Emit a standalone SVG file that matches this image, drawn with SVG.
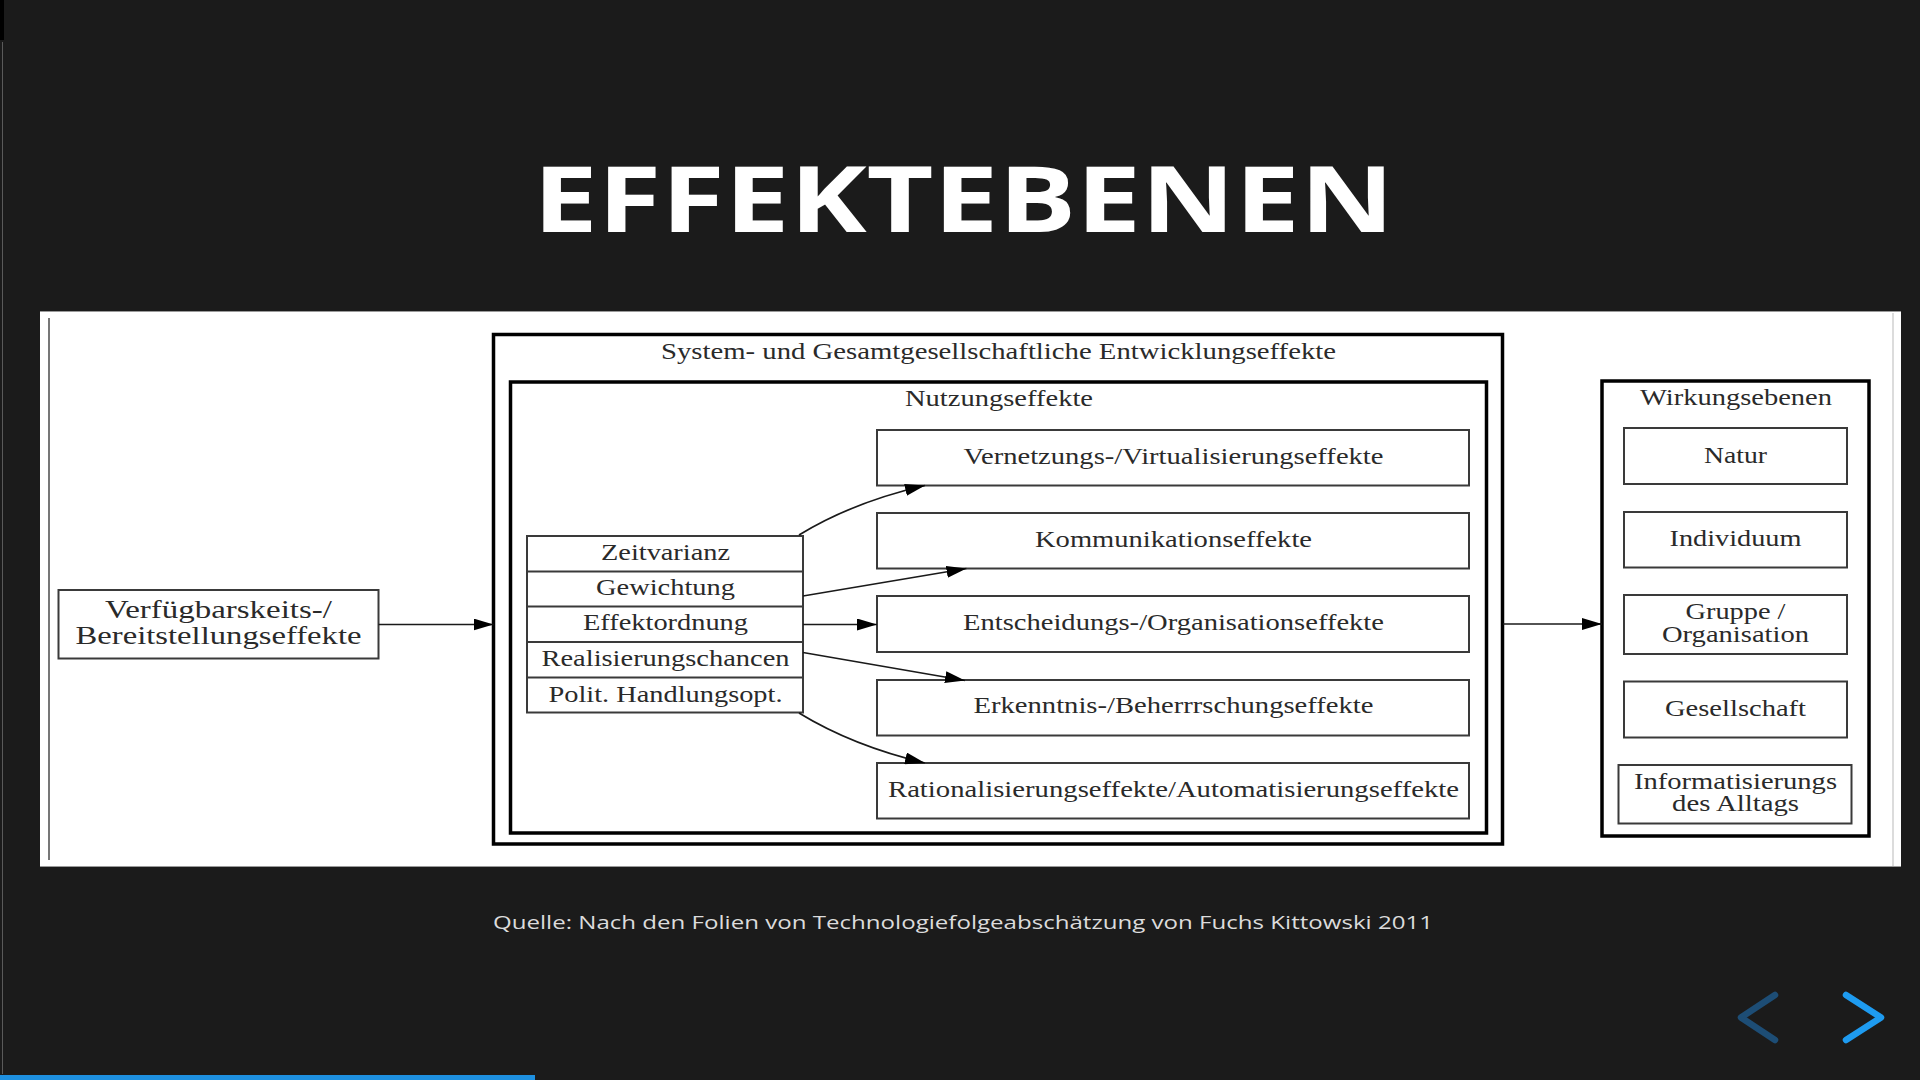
<svg xmlns="http://www.w3.org/2000/svg" width="1920" height="1080" viewBox="0 0 1920 1080">
<style>
.bg{fill:#1b1b1b}
.title{font-family:"Open Sans","Noto Sans",sans-serif;font-weight:700;font-size:92px;fill:#ffffff}
.cap{font-family:"Open Sans","Noto Sans",sans-serif;font-size:19px;fill:#dcdcdc}
.t{font-family:"Liberation Serif","Times New Roman",serif;font-size:24px;fill:#2a2a2a;text-anchor:middle}
.tl{font-family:"Liberation Serif","Times New Roman",serif;font-size:26px;fill:#2a2a2a;text-anchor:middle}
.box{fill:#ffffff;stroke:#3a3a3a;stroke-width:2}
.frame{fill:none;stroke:#000000;stroke-width:3.5}
.edge{fill:none;stroke:#1a1a1a;stroke-width:1.7}
.chev{fill:none;stroke-width:6.5;stroke-linecap:round;stroke-linejoin:round}
</style>
<defs>
<marker id="ah" markerUnits="userSpaceOnUse" markerWidth="20" markerHeight="12" refX="20" refY="6" orient="auto">
<polygon points="0,0 20,6 0,12" fill="#000000"/>
</marker>
</defs>
<rect class="bg" x="0" y="0" width="1920" height="1080"/>
<rect x="0" y="0" width="4" height="40" fill="#000000"/>
<line x1="2.5" y1="42" x2="2.5" y2="1074" stroke="#5a5a5a" stroke-width="1"/>
<text class="title" x="533" y="232" textLength="861" lengthAdjust="spacingAndGlyphs">EFFEKTEBENEN</text>

<rect x="40" y="311" width="1861" height="556" fill="#ffffff"/>
<line x1="40" y1="311.5" x2="1901" y2="311.5" stroke="#9a9a9a" stroke-width="1"/>
<line x1="40" y1="866.5" x2="1901" y2="866.5" stroke="#9a9a9a" stroke-width="1"/>
<line x1="1893" y1="313" x2="1893" y2="866" stroke="#d0d0d0" stroke-width="1.5"/>
<line x1="49" y1="318" x2="49" y2="860" stroke="#777777" stroke-width="2"/>

<g id="verfuegbarkeit">
<rect class="box" x="58.5" y="590" width="320" height="68.5"/>
<text class="tl" x="218.5" y="617.5" textLength="227" lengthAdjust="spacingAndGlyphs">Verfügbarskeits-/</text>
<text class="tl" x="218.5" y="643.5" textLength="286" lengthAdjust="spacingAndGlyphs">Bereitstellungseffekte</text>
</g>

<g id="system">
<rect class="frame" x="493.5" y="334.5" width="1009" height="509.5"/>
<text class="t" x="998.5" y="358.5" textLength="675" lengthAdjust="spacingAndGlyphs">System- und Gesamtgesellschaftliche Entwicklungseffekte</text>
</g>

<g id="nutzung">
<rect class="frame" x="510.5" y="382" width="976" height="451"/>
<text class="t" x="999" y="406" textLength="188" lengthAdjust="spacingAndGlyphs">Nutzungseffekte</text>
</g>

<g id="faktoren">
<rect class="box" x="527" y="536" width="276" height="176.5"/>
<line x1="527" y1="571.5" x2="803" y2="571.5" stroke="#3a3a3a" stroke-width="2"/>
<line x1="527" y1="606.5" x2="803" y2="606.5" stroke="#3a3a3a" stroke-width="2"/>
<line x1="527" y1="642" x2="803" y2="642" stroke="#3a3a3a" stroke-width="2"/>
<line x1="527" y1="677.5" x2="803" y2="677.5" stroke="#3a3a3a" stroke-width="2"/>
<text class="t" x="665.5" y="559.5" textLength="129" lengthAdjust="spacingAndGlyphs">Zeitvarianz</text>
<text class="t" x="665.5" y="594.5" textLength="139" lengthAdjust="spacingAndGlyphs">Gewichtung</text>
<text class="t" x="665.5" y="630" textLength="165" lengthAdjust="spacingAndGlyphs">Effektordnung</text>
<text class="t" x="665.5" y="665.5" textLength="248" lengthAdjust="spacingAndGlyphs">Realisierungschancen</text>
<text class="t" x="665.5" y="701.5" textLength="234" lengthAdjust="spacingAndGlyphs">Polit. Handlungsopt.</text>
</g>

<g id="vernetzung">
<rect class="box" x="877" y="430" width="592" height="55.5"/>
<text class="t" x="1173.5" y="463.5" textLength="420" lengthAdjust="spacingAndGlyphs">Vernetzungs-/Virtualisierungseffekte</text>
</g>
<g id="kommunikation">
<rect class="box" x="877" y="513" width="592" height="55.5"/>
<text class="t" x="1173.5" y="546.5" textLength="277" lengthAdjust="spacingAndGlyphs">Kommunikationseffekte</text>
</g>
<g id="entscheidung">
<rect class="box" x="877" y="596" width="592" height="56"/>
<text class="t" x="1173.5" y="629.5" textLength="421" lengthAdjust="spacingAndGlyphs">Entscheidungs-/Organisationseffekte</text>
</g>
<g id="erkenntnis">
<rect class="box" x="877" y="680" width="592" height="55.5"/>
<text class="t" x="1173.5" y="713" textLength="400" lengthAdjust="spacingAndGlyphs">Erkenntnis-/Beherrrschungseffekte</text>
</g>
<g id="rationalisierung">
<rect class="box" x="877" y="763" width="592" height="55.5"/>
<text class="t" x="1173.5" y="797" textLength="571" lengthAdjust="spacingAndGlyphs">Rationalisierungseffekte/Automatisierungseffekte</text>
</g>

<g id="wirkungsebenen">
<rect class="frame" x="1602" y="381" width="267" height="455"/>
<text class="t" x="1736" y="405" textLength="192" lengthAdjust="spacingAndGlyphs">Wirkungsebenen</text>
</g>
<g id="natur">
<rect class="box" x="1624" y="428" width="223" height="56"/>
<text class="t" x="1735.5" y="462.5" textLength="63" lengthAdjust="spacingAndGlyphs">Natur</text>
</g>
<g id="individuum">
<rect class="box" x="1624" y="512" width="223" height="55.5"/>
<text class="t" x="1735.5" y="545.5" textLength="132" lengthAdjust="spacingAndGlyphs">Individuum</text>
</g>
<g id="gruppe">
<rect class="box" x="1624" y="595" width="223" height="59"/>
<text class="t" x="1735.5" y="618.5" textLength="100" lengthAdjust="spacingAndGlyphs">Gruppe /</text>
<text class="t" x="1735.5" y="641.5" textLength="147" lengthAdjust="spacingAndGlyphs">Organisation</text>
</g>
<g id="gesellschaft">
<rect class="box" x="1624" y="681.5" width="223" height="56"/>
<text class="t" x="1735.5" y="716" textLength="141" lengthAdjust="spacingAndGlyphs">Gesellschaft</text>
</g>
<g id="alltag">
<rect class="box" x="1618.5" y="765" width="233" height="58.5"/>
<text class="t" x="1735.5" y="788.5" textLength="203" lengthAdjust="spacingAndGlyphs">Informatisierungs</text>
<text class="t" x="1735.5" y="811" textLength="127" lengthAdjust="spacingAndGlyphs">des Alltags</text>
</g>

<g id="connectors">
<path class="edge" d="M378.5 624.5 L493.5 624.5" marker-end="url(#ah)"/>
<path class="edge" d="M799 535 Q853 502 925 485.5" marker-end="url(#ah)"/>
<path class="edge" d="M803 596 L966.5 568.5" marker-end="url(#ah)"/>
<path class="edge" d="M803 624.5 L877 624.5" marker-end="url(#ah)"/>
<path class="edge" d="M803 652.5 L965 680.5" marker-end="url(#ah)"/>
<path class="edge" d="M799 713 Q853 746 925 763" marker-end="url(#ah)"/>
<path class="edge" d="M1503 624 L1602 624" marker-end="url(#ah)"/>
</g>

<text class="cap" x="493" y="929" textLength="940" lengthAdjust="spacingAndGlyphs">Quelle: Nach den Folien von Technologiefolgeabschätzung von Fuchs Kittowski 2011</text>

<polyline class="chev" points="1775,995 1741,1017.5 1775,1040" stroke="#1d4d75"/>
<polyline class="chev" points="1846,995 1881,1017.5 1846,1040" stroke="#1e9bf0"/>
<rect x="0" y="1075" width="535" height="5" fill="#1e90e0"/>
</svg>
